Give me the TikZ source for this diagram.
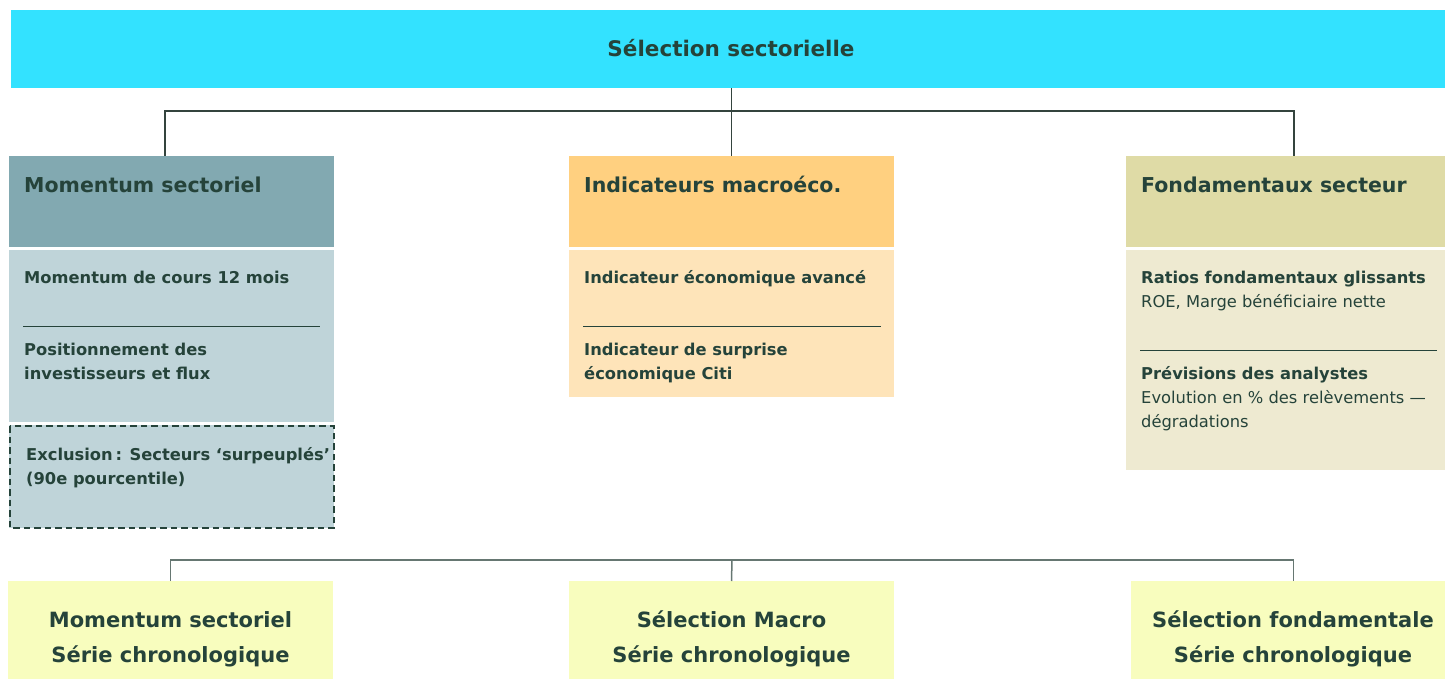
\documentclass[tikz,border=0pt]{standalone}
\usepackage{fontspec}
\setmainfont{DejaVu Sans}
\definecolor{ink}{HTML}{25433A}
\definecolor{cyanbg}{HTML}{33E2FF}
\definecolor{momhead}{HTML}{82A9B1}
\definecolor{mombody}{HTML}{BFD4D9}
\definecolor{machead}{HTML}{FFD080}
\definecolor{macbody}{HTML}{FEE4B9}
\definecolor{fonhead}{HTML}{DFDBA6}
\definecolor{fonbody}{HTML}{EEEAD1}
\definecolor{outbg}{HTML}{F8FDBE}
\definecolor{conntop}{HTML}{34443E}
\definecolor{connbot}{HTML}{667772}
\newcommand{\leftlines}[1]{\begin{tabular}[t]{@{}l@{}}#1\end{tabular}}
\newcommand{\midlines}[1]{\begin{tabular}[t]{@{}c@{}}#1\end{tabular}}
\begin{document}
\begin{tikzpicture}[x=1pt,y=-1pt,
  panel/.style={draw=none,anchor=north west,inner sep=0pt,outer sep=0pt},
  headtxt/.style={anchor=base west,inner sep=0pt,text=ink,font=\fontsize{20.5}{25}\selectfont\bfseries},
  bodytxt/.style={anchor=base west,inner sep=0pt,text=ink,font=\fontsize{16.3}{24}\selectfont},
  bodybold/.style={bodytxt,font=\fontsize{16.3}{24}\selectfont\bfseries},
  outtxt/.style={anchor=base,inner sep=0pt,text=ink,font=\fontsize{21}{35}\selectfont\bfseries},
  divider/.style={draw=ink,line width=1pt},
  conn/.style={draw=conntop,line width=1.5pt},
  connb/.style={draw=connbot,line width=1.5pt},
  dashbox/.style={draw=ink,line width=2.2pt,dash pattern=on 6.5pt off 4pt}
]
\useasboundingbox (0,0) rectangle (1445,679);

% top banner
\node[panel,fill=cyanbg,minimum width=1445pt,minimum height=78pt] (banner) at (11,10) {};
\node[anchor=base,inner sep=0pt,text=ink,font=\fontsize{21.5}{25}\selectfont\bfseries] (title) at (731,57) {Sélection sectorielle};

% left column
\node[panel,fill=momhead,minimum width=325pt,minimum height=91pt] (lefth) at (9,156) {};
\node[panel,fill=mombody,minimum width=325pt,minimum height=172pt] (leftb) at (9,250) {};
\node[panel,fill=mombody,minimum width=325pt,minimum height=103pt] (leftx) at (9,425) {};
\draw[dashbox] (10.1,426.1) rectangle (333.9,527.9);
\node[headtxt] (lefthT) at (24,193) {Momentum sectoriel};
\node[bodybold] (leftb1) at (24,283) {Momentum de cours 12 mois};
\draw[divider] (23,326.5) -- (320,326.5);
\node[bodybold] (leftb2) at (24,355) {\leftlines{Positionnement des\\investisseurs et flux}};
\node[bodybold] (leftx1) at (26,460) {\leftlines{Exclusion\,: Secteurs ‘surpeuplés’\\(90e pourcentile)}};

% middle column
\node[panel,fill=machead,minimum width=325pt,minimum height=91pt] (midh) at (569,156) {};
\node[panel,fill=macbody,minimum width=325pt,minimum height=147pt] (midb) at (569,250) {};
\node[headtxt] (midhT) at (584,193) {Indicateurs macroéco.};
\node[bodybold] (midb1) at (584,283) {Indicateur économique avancé};
\draw[divider] (583,326) -- (881,326);
\node[bodybold] (midb2) at (584,355) {\leftlines{Indicateur de surprise\\économique Citi}};

% right column
\node[panel,fill=fonhead,minimum width=325pt,minimum height=91pt] (righth) at (1126,156) {};
\node[panel,fill=fonbody,minimum width=325pt,minimum height=220pt] (rightb) at (1126,250) {};
\node[headtxt] (righthT) at (1141,193) {Fondamentaux secteur};
\node[bodytxt] (rightb1) at (1141,283) {\leftlines{\textbf{Ratios fondamentaux glissants}\\ROE, Marge bénéficiaire nette}};
\draw[divider] (1140,350) -- (1437,350);
\node[bodytxt] (rightb2) at (1141,379) {\leftlines{\textbf{Prévisions des analystes}\\Evolution en \% des relèvements —\\dégradations}};

% bottom outputs
\node[panel,fill=outbg,minimum width=325pt,minimum height=110pt] (bl) at (8,581) {};
\node[panel,fill=outbg,minimum width=325pt,minimum height=110pt] (bm) at (569,581) {};
\node[panel,fill=outbg,minimum width=325pt,minimum height=110pt] (br) at (1131,581) {};
\node[outtxt] (blT) at (170.5,627) {\midlines{Momentum sectoriel\\Série chronologique}};
\node[outtxt] (bmT) at (731.5,627) {\midlines{Sélection Macro\\Série chronologique}};
\node[outtxt] (brT) at (1293,627) {\midlines{Sélection fondamentale\\Série chronologique}};

% connectors top
\coordinate (j1) at (732,111);
\draw[conn] (banner.south -| midh.north) -- (midh.north);
\draw[conn] ([xshift=-6.5pt]lefth.north) |- (j1) -| ([xshift=5.5pt]righth.north);

% connectors bottom
\coordinate (j2) at (732,560);
\draw[connb] (bl.north) |- (j2) -| (br.north);
\draw[connb] (j2) -- (bm.north);
\end{tikzpicture}
\end{document}
